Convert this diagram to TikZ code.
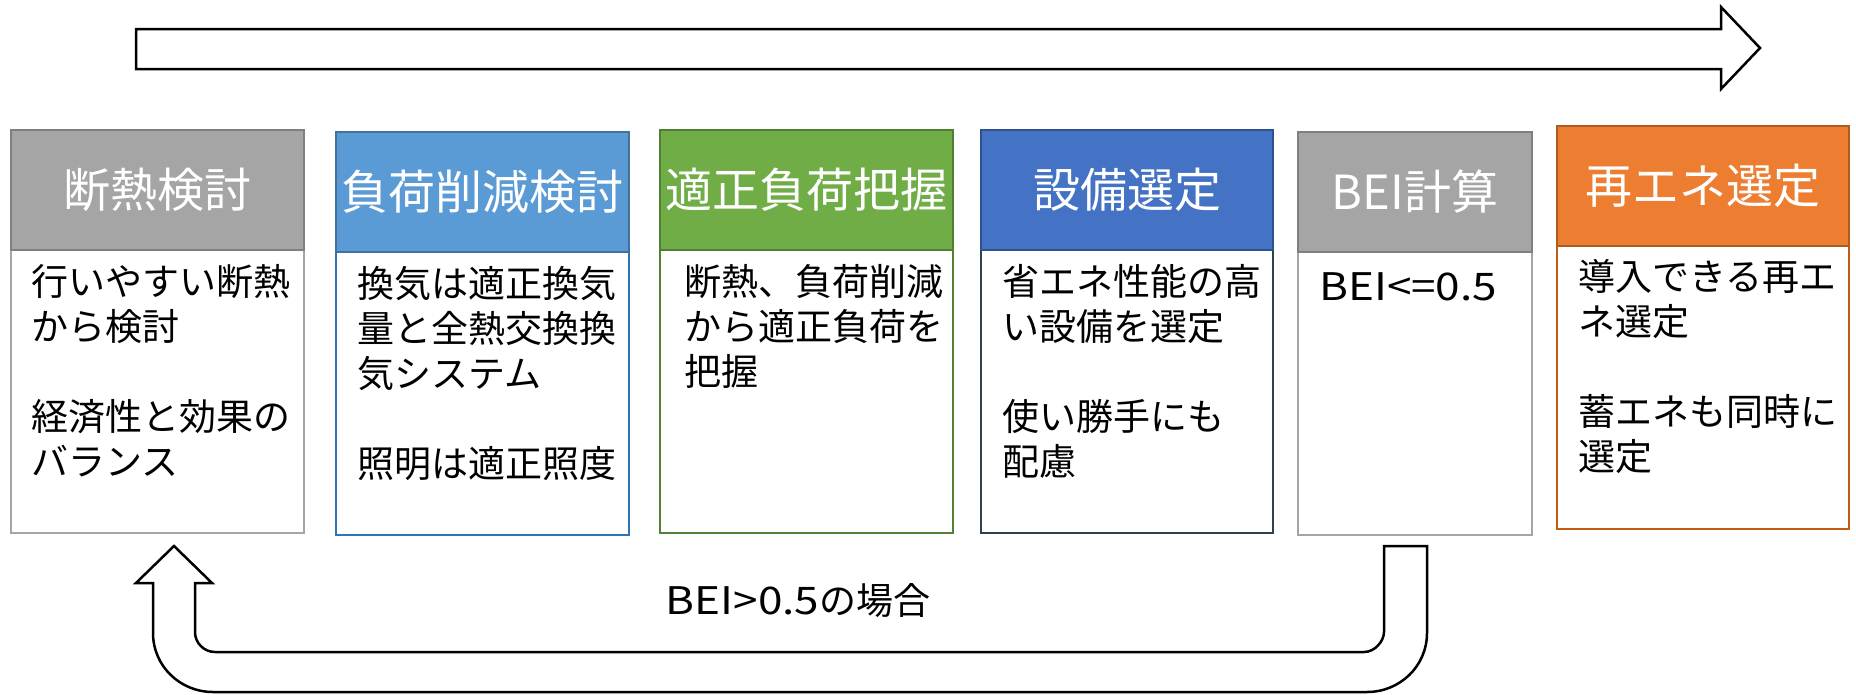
\documentclass[tikz,border=0pt]{standalone}
\usepackage{fontspec}
\setmainfont{Noto Sans CJK JP}
\newfontfamily\widelatin{Noto Sans CJK JP}[FakeStretch=1.16]
\definecolor{grayF}{HTML}{A5A5A5}
\definecolor{grayD}{HTML}{7F7F7F}
\definecolor{grayB}{HTML}{A5A5A5}
\definecolor{blueF}{HTML}{5B9BD5}
\definecolor{blueD}{HTML}{41719C}
\definecolor{blueB}{HTML}{2E75B6}
\definecolor{greenF}{HTML}{70AD47}
\definecolor{greenD}{HTML}{507E32}
\definecolor{greenB}{HTML}{548235}
\definecolor{dblueF}{HTML}{4472C4}
\definecolor{dblueD}{HTML}{2F528F}
\definecolor{dblueB}{HTML}{323F4F}
\definecolor{orangeF}{HTML}{ED7D31}
\definecolor{orangeD}{HTML}{AE5A21}
\definecolor{orangeB}{HTML}{C55A11}
\tikzset{
  hdr/.style={rectangle, line width=2.5pt, text=white, font=\fontsize{47}{56}\selectfont, inner sep=0pt, minimum height=120pt},
  bodybox/.style={rectangle, line width=2.5pt, fill=white, inner sep=0pt, minimum height=283pt},
  bodytxt/.style={anchor=north west, align=left, inner sep=0pt, font=\fontsize{37}{45}\selectfont},
  bigarrow/.style={draw=black, line width=2.5pt, fill=white, line join=miter},
  lbltxt/.style={inner sep=0pt, font=\fontsize{37}{45}\selectfont}
}
\begin{document}
\begin{tikzpicture}[x=1pt,y=-1pt]
\useasboundingbox (0,0) rectangle (1856,694);
% top process arrow
\draw[bigarrow] (136,29) -- (1721,29) -- (1721,7) -- (1760,48) -- (1721,89) -- (1721,69) -- (136,69) -- cycle;

% box 1
\node[bodybox, draw=grayB, minimum width=293pt] (b1) at (157.5,391.5) {};
\node[hdr, fill=grayF, draw=grayD, minimum width=293pt] (h1) at (157.5,190) {断熱検討};
\node[bodytxt] (t1) at (31,264) {行いやすい断熱\\から検討\\[45pt]経済性と効果の\\バランス};

% box 2
\node[bodybox, draw=blueB, minimum width=293pt] (b2) at (482.5,393.5) {};
\node[hdr, fill=blueF, draw=blueD, minimum width=293pt] (h2) at (482.5,192) {負荷削減検討};
\node[bodytxt] (t2) at (357,266) {換気は適正換気\\量と全熱交換換\\気システム\\[45pt]照明は適正照度};

% box 3
\node[bodybox, draw=greenB, minimum width=293pt] (b3) at (806.5,391.5) {};
\node[hdr, fill=greenF, draw=greenD, minimum width=293pt] (h3) at (806.5,190) {適正負荷把握};
\node[bodytxt] (t3) at (684,264) {断熱、負荷削減\\から適正負荷を\\把握};

% box 4
\node[bodybox, draw=dblueB, minimum width=292pt] (b4) at (1127,391.5) {};
\node[hdr, fill=dblueF, draw=dblueD, minimum width=292pt] (h4) at (1127,190) {設備選定};
\node[bodytxt] (t4) at (1002,264) {省エネ性能の高\\い設備を選定\\[45pt]使い勝手にも\\配慮};

% box 5
\node[bodybox, draw=grayB, minimum width=234pt] (b5) at (1415,393.5) {};
\node[hdr, fill=grayF, draw=grayD, minimum width=234pt] (h5) at (1415,192) {BEI計算};
\node[bodytxt, font=\widelatin\fontsize{38}{45}\selectfont] (t5) at (1319,272) {BEI<=0.5};

% box 6
\node[bodybox, draw=orangeB, minimum width=292pt] (b6) at (1703,387.5) {};
\node[hdr, fill=orangeF, draw=orangeD, minimum width=292pt] (h6) at (1703,186) {再エネ選定};
\node[bodytxt] (t6) at (1578,259) {導入できる再エ\\ネ選定\\[45pt]蓄エネも同時に\\選定};

% U-turn feedback arrow
\draw[bigarrow] (1384,546) -- (1427,546) -- (1427,633)
  .. controls (1427,666) and (1400,692) .. (1367,692) -- (213,692)
  .. controls (180,692) and (153,666) .. (153,633) -- (153,583) -- (136,583)
  -- (174,546) -- (212,583) -- (195,583) -- (195,632)
  .. controls (195,643) and (204,652) .. (215,652) -- (1364,652)
  .. controls (1375,652) and (1384,641) .. (1384,632) -- cycle;
\node[lbltxt] (lbl) at (798,601) {{\widelatin\fontsize{38}{45}\selectfont BEI>0.5}の場合};
\end{tikzpicture}
\end{document}
